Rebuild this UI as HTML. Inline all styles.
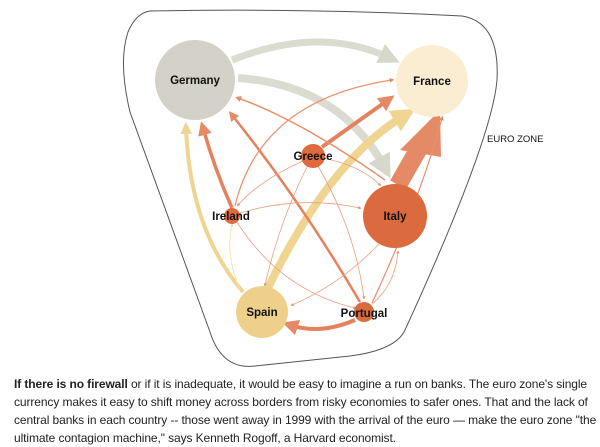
<!DOCTYPE html>
<html><head><meta charset="utf-8"><style>
body{margin:0;background:#fff;width:600px;height:447px;overflow:hidden;font-family:"Liberation Sans",Arial,sans-serif}
svg{position:absolute;left:0;top:0}
.t{position:absolute;left:14px;top:375px;width:590px;font-size:12px;line-height:18px;color:#222;letter-spacing:-0.1px}
</style></head><body>
<svg width="600" height="370" viewBox="0 0 600 370">
<defs>
<marker id="mo" markerWidth="4" markerHeight="4" refX="2" refY="2" orient="auto" markerUnits="strokeWidth"><path d="M0,0 L4,2 L0,4 Z" fill="#e58a66"/></marker>
<marker id="mg" markerWidth="3" markerHeight="3" refX="1.5" refY="1.5" orient="auto" markerUnits="strokeWidth"><path d="M0,0 L3,1.5 L0,3 Z" fill="#d8d7cc"/></marker>
<marker id="my" markerWidth="3" markerHeight="3" refX="1.5" refY="1.5" orient="auto" markerUnits="strokeWidth"><path d="M0,0 L3,1.5 L0,3 Z" fill="#f0d592"/></marker>
</defs>
<path d="M150 11 Q310 8 462 16 Q500 22 497 80 Q492 140 405 330 Q396 350 350 356 L255 366 Q222 370 210 332 L130 112 Q118 62 128 32 Q136 13 150 11 Z" fill="none" stroke="#555" stroke-width="1"/>
<g fill="none" stroke-linecap="butt">
<!-- grey -->
<path d="M232 60 Q320 25 390 58" stroke="#dcdbd2" stroke-width="7" marker-end="url(#mg)"/>
<path d="M238 78 Q340 85 385 168" stroke="#dcdbd2" stroke-width="8" marker-end="url(#mg)"/>
<!-- yellow -->
<path d="M268 288 Q330 160 405 115" stroke="#f0d592" stroke-width="8" marker-end="url(#my)"/>
<path d="M243 292 Q190 230 186 128" stroke="#f0d592" stroke-width="4" marker-end="url(#my)"/>
<path d="M240 290 Q225 255 232 225" stroke="#f5e2b0" stroke-width="1" marker-end="url(#my)"/>
<!-- big italy->france -->
<path d="M398 185 L418 150" stroke="#e58a66" stroke-width="18"/>
<polygon points="400,150 440,110 441,157" fill="#e58a66"/>
<!-- orange -->
<path d="M322 147 L388 100" stroke="#e5825e" stroke-width="4" marker-end="url(#mo)"/>
<path d="M232 208 Q215 170 203 128" stroke="#e5825e" stroke-width="3.5" marker-end="url(#mo)"/>
<path d="M360 302 Q300 200 232 115" stroke="#e5825e" stroke-width="2.5" marker-end="url(#mo)"/>
<path d="M355 320 Q320 335 290 325" stroke="#e5825e" stroke-width="4" marker-end="url(#mo)"/>
<path d="M385 180 Q300 120 238 98" stroke="#e8906c" stroke-width="1.5" marker-end="url(#mo)"/>
<path d="M235 206 Q260 100 392 80" stroke="#e8906c" stroke-width="1.2" marker-end="url(#mo)"/>
<path d="M372 303 Q420 200 442 118" stroke="#e8906c" stroke-width="1.2" marker-end="url(#mo)"/>
<path d="M240 213 Q300 195 360 208" stroke="#ec9f80" stroke-width="0.8" marker-end="url(#mo)"/>
<path d="M305 160 Q260 180 238 205" stroke="#ec9f80" stroke-width="0.8" marker-end="url(#mo)"/>
<path d="M322 158 Q360 165 380 185" stroke="#ec9f80" stroke-width="0.8" marker-end="url(#mo)"/>
<path d="M308 165 Q280 220 265 285" stroke="#ec9f80" stroke-width="0.8" marker-end="url(#mo)"/>
<path d="M318 166 Q355 230 364 298" stroke="#ec9f80" stroke-width="0.8" marker-end="url(#mo)"/>
<path d="M237 222 Q280 290 355 308" stroke="#ec9f80" stroke-width="0.8" marker-end="url(#mo)"/>
<path d="M380 243 Q340 285 292 305" stroke="#ec9f80" stroke-width="0.8" marker-end="url(#mo)"/>
<path d="M372 304 Q395 285 398 252" stroke="#ec9f80" stroke-width="0.8" marker-end="url(#mo)"/>
</g>
<circle cx="195" cy="80" r="40" fill="#d3d1c8"/>
<circle cx="432" cy="81" r="36" fill="#faedd2"/>
<circle cx="313" cy="156" r="12" fill="#de6a3e"/>
<circle cx="232" cy="216" r="8" fill="#de6a3e"/>
<circle cx="395" cy="216" r="32" fill="#dc6a3f"/>
<circle cx="262" cy="312" r="26" fill="#efd08b"/>
<circle cx="364" cy="312" r="10" fill="#dc6a3f"/>
<g font-family="Liberation Sans,Arial,sans-serif" font-weight="bold" font-size="11.5" fill="#111" text-anchor="middle">
<text x="195" y="84">Germany</text>
<text x="432" y="85">France</text>
<text x="313" y="160">Greece</text>
<text x="231" y="220">Ireland</text>
<text x="395" y="220">Italy</text>
<text x="262" y="316">Spain</text>
<text x="364" y="317">Portugal</text>
</g>
<text x="487" y="142" font-family="Liberation Sans,Arial,sans-serif" font-size="9.5" fill="#111">EURO ZONE</text>
</svg>
<div class="t"><b>If there is no firewall</b> or if it is inadequate, it would be easy to imagine a run on banks. The euro zone's single currency makes it easy to shift money across borders from risky economies to safer ones. That and the lack of central banks in each country -- those went away in 1999 with the arrival of the euro — make the euro zone "the ultimate contagion machine," says Kenneth Rogoff, a Harvard economist.</div>
</body></html>
